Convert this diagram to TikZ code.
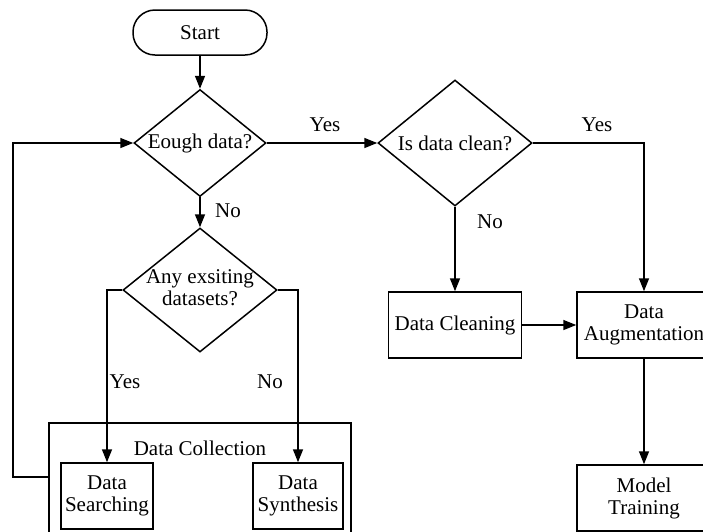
\documentclass[tikz,border=0pt]{standalone}
\usepackage{fontspec}
\setmainfont{Liberation Serif}
\usetikzlibrary{shapes.geometric,arrows.meta}
\begin{document}
\begin{tikzpicture}[x=1pt,y=-1pt,
  font=\fontsize{21}{24}\selectfont,
  every node/.style={inner sep=0pt},
  line/.style={line width=1.5pt, line join=miter},
  flow/.style={line, -{Triangle[length=13pt,width=10pt]}},
  terminal/.style={line, draw, rectangle, rounded corners=22pt,
    minimum width=134pt, minimum height=45pt},
  decision/.style={line, draw, diamond, inner sep=0pt},
  process/.style={line, draw, rectangle, minimum height=66pt, align=center},
  tag/.style={font=\fontsize{21}{24}\selectfont}]
\useasboundingbox (0,0) rectangle (703,531);

% start and the decisions
\node[terminal] (start) at (200,32.5) {Start};
\node[decision, minimum width=132pt, minimum height=107pt] (enough) at (200,143)
  {\makebox[0pt]{Eough data?}};
\node[decision, minimum width=154pt, minimum height=126pt] (clean) at (455,143)
  {\makebox[0pt]{Is data clean?}};
\node[decision, minimum width=154pt, minimum height=124pt] (exist) at (200,290)
  {\makebox[0pt]{\begin{tabular}{@{}c@{}}Any exsiting\\[-2pt]datasets?\end{tabular}}};

% processing boxes
\node[process, minimum width=133pt] (cleaning) at (455,325) {Data Cleaning};
\node[process, minimum width=134pt] (augment) at (644,325)
  {Data\\[-2pt]Augmentation};
\node[process, minimum width=134pt] (train) at (644,498) {Model\\[-2pt]Training};

% data collection group
\node[line, draw, rectangle, minimum width=302pt, minimum height=134pt]
  (collect) at (200,490) {};
\node (collectlbl) at (200,448) {Data Collection};
\node[process, minimum width=92pt] (search) at (107,496) {Data\\[-2pt]Searching};
\node[process, minimum width=90pt] (synth) at (298,496) {Data\\[-2pt]Synthesis};

% branch labels
\node[tag] (y1) at (325,125) {Yes};
\node[tag] (n1) at (228,211) {No};
\node[tag] (y2) at (597,125) {Yes};
\node[tag] (n2) at (490,222) {No};
\node[tag] (y3) at (125,382) {Yes};
\node[tag] (n3) at (270,382) {No};

% connectors
\draw[flow] (start.south) -- (enough.north);
\draw[flow] (enough.east) -- (clean.west);
\draw[flow] (enough.south) -- (exist.north);
\draw[flow] (clean.east) -| (augment.north);
\draw[flow] (clean.south) -- (cleaning.north);
\draw[flow] (cleaning.east) -- (augment.west);
\draw[flow] (augment.south) -- (train.north);
\draw[flow] (exist.west) -| (search.north);
\draw[flow] (exist.east) -| (synth.north);

% loop back from data collection
\coordinate (loopstart) at (49,477);
\coordinate (loopcorner) at (13,143);
\draw[flow] (loopstart) -| (loopcorner) -- (enough.west);
\end{tikzpicture}
\end{document}
